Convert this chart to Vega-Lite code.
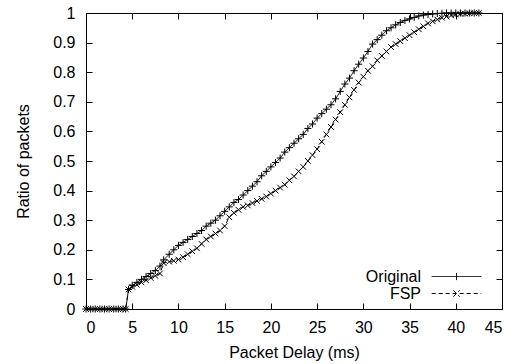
{
  "$schema": "https://vega.github.io/schema/vega-lite/v6.json",
  "autosize": {"type": "none"},
  "width": 416,
  "height": 296,
  "padding": {"left": 86, "top": 13, "right": 12, "bottom": 55},
  "background": "white",
  "config": {
    "view": {"stroke": "black", "strokeWidth": 1},
    "font": "Liberation Sans",
    "axis": {
      "grid": false,
      "domain": false,
      "tickColor": "black",
      "tickSize": -6,
      "tickWidth": 1,
      "labelColor": "black",
      "titleColor": "black",
      "labelFontSize": 16,
      "titleFontSize": 16,
      "titleFontWeight": "normal",
      "labelFont": "Liberation Sans",
      "titleFont": "Liberation Sans"
    }
  },
  "data": {
    "values": [
      {"series": "Original", "x": 0, "y": 0},
      {"series": "Original", "x": 0.5, "y": 0},
      {"series": "Original", "x": 1.0, "y": 0},
      {"series": "Original", "x": 1.5, "y": 0},
      {"series": "Original", "x": 2.0, "y": 0},
      {"series": "Original", "x": 2.5, "y": 0},
      {"series": "Original", "x": 3.0, "y": 0},
      {"series": "Original", "x": 3.5, "y": 0},
      {"series": "Original", "x": 4.0, "y": 0},
      {"series": "Original", "x": 4.3, "y": 0},
      {"series": "Original", "x": 4.6, "y": 0.066},
      {"series": "Original", "x": 5.0, "y": 0.08},
      {"series": "Original", "x": 5.5, "y": 0.09},
      {"series": "Original", "x": 6.0, "y": 0.1},
      {"series": "Original", "x": 6.5, "y": 0.11},
      {"series": "Original", "x": 7.0, "y": 0.12},
      {"series": "Original", "x": 7.5, "y": 0.13},
      {"series": "Original", "x": 8.0, "y": 0.145},
      {"series": "Original", "x": 8.4, "y": 0.166},
      {"series": "Original", "x": 9.0, "y": 0.185},
      {"series": "Original", "x": 9.5, "y": 0.2},
      {"series": "Original", "x": 10.0, "y": 0.215},
      {"series": "Original", "x": 10.5, "y": 0.225},
      {"series": "Original", "x": 11.0, "y": 0.235},
      {"series": "Original", "x": 11.5, "y": 0.245},
      {"series": "Original", "x": 12.0, "y": 0.255},
      {"series": "Original", "x": 12.5, "y": 0.265},
      {"series": "Original", "x": 13.0, "y": 0.28},
      {"series": "Original", "x": 13.5, "y": 0.29},
      {"series": "Original", "x": 14.0, "y": 0.3},
      {"series": "Original", "x": 14.5, "y": 0.315},
      {"series": "Original", "x": 15.0, "y": 0.33},
      {"series": "Original", "x": 15.5, "y": 0.345},
      {"series": "Original", "x": 16.0, "y": 0.36},
      {"series": "Original", "x": 16.5, "y": 0.37},
      {"series": "Original", "x": 17.0, "y": 0.385},
      {"series": "Original", "x": 17.5, "y": 0.4},
      {"series": "Original", "x": 18.0, "y": 0.415},
      {"series": "Original", "x": 18.5, "y": 0.43},
      {"series": "Original", "x": 19.0, "y": 0.45},
      {"series": "Original", "x": 19.5, "y": 0.465},
      {"series": "Original", "x": 20.0, "y": 0.48},
      {"series": "Original", "x": 20.5, "y": 0.495},
      {"series": "Original", "x": 21.0, "y": 0.51},
      {"series": "Original", "x": 21.5, "y": 0.53},
      {"series": "Original", "x": 22.0, "y": 0.545},
      {"series": "Original", "x": 22.5, "y": 0.56},
      {"series": "Original", "x": 23.0, "y": 0.575},
      {"series": "Original", "x": 23.5, "y": 0.59},
      {"series": "Original", "x": 24.0, "y": 0.61},
      {"series": "Original", "x": 24.5, "y": 0.625},
      {"series": "Original", "x": 25.0, "y": 0.645},
      {"series": "Original", "x": 25.5, "y": 0.66},
      {"series": "Original", "x": 26.0, "y": 0.675},
      {"series": "Original", "x": 26.5, "y": 0.69},
      {"series": "Original", "x": 27.0, "y": 0.71},
      {"series": "Original", "x": 27.5, "y": 0.735},
      {"series": "Original", "x": 28.0, "y": 0.76},
      {"series": "Original", "x": 28.5, "y": 0.78},
      {"series": "Original", "x": 29.0, "y": 0.805},
      {"series": "Original", "x": 29.5, "y": 0.827},
      {"series": "Original", "x": 30.0, "y": 0.848},
      {"series": "Original", "x": 30.5, "y": 0.87},
      {"series": "Original", "x": 31.0, "y": 0.895},
      {"series": "Original", "x": 31.5, "y": 0.91},
      {"series": "Original", "x": 32.0, "y": 0.925},
      {"series": "Original", "x": 32.5, "y": 0.94},
      {"series": "Original", "x": 33.0, "y": 0.95},
      {"series": "Original", "x": 33.5, "y": 0.96},
      {"series": "Original", "x": 34.0, "y": 0.968},
      {"series": "Original", "x": 34.5, "y": 0.975},
      {"series": "Original", "x": 35.0, "y": 0.98},
      {"series": "Original", "x": 35.5, "y": 0.985},
      {"series": "Original", "x": 36.0, "y": 0.99},
      {"series": "Original", "x": 36.5, "y": 0.993},
      {"series": "Original", "x": 37.0, "y": 0.995},
      {"series": "Original", "x": 37.5, "y": 0.997},
      {"series": "Original", "x": 38.0, "y": 0.998},
      {"series": "Original", "x": 38.5, "y": 0.999},
      {"series": "Original", "x": 39.0, "y": 1.0},
      {"series": "Original", "x": 39.5, "y": 1.0},
      {"series": "Original", "x": 40.0, "y": 1.0},
      {"series": "Original", "x": 40.5, "y": 1.0},
      {"series": "Original", "x": 41.0, "y": 1.0},
      {"series": "Original", "x": 41.5, "y": 1.0},
      {"series": "Original", "x": 42.0, "y": 1.0},
      {"series": "Original", "x": 42.5, "y": 1.0},
      {"series": "FSP", "x": 0, "y": 0},
      {"series": "FSP", "x": 0.5, "y": 0},
      {"series": "FSP", "x": 1.0, "y": 0},
      {"series": "FSP", "x": 1.5, "y": 0},
      {"series": "FSP", "x": 2.0, "y": 0},
      {"series": "FSP", "x": 2.5, "y": 0},
      {"series": "FSP", "x": 3.0, "y": 0},
      {"series": "FSP", "x": 3.5, "y": 0},
      {"series": "FSP", "x": 4.0, "y": 0},
      {"series": "FSP", "x": 4.3, "y": 0},
      {"series": "FSP", "x": 4.6, "y": 0.066},
      {"series": "FSP", "x": 5.0, "y": 0.075},
      {"series": "FSP", "x": 5.5, "y": 0.082},
      {"series": "FSP", "x": 6.0, "y": 0.09},
      {"series": "FSP", "x": 6.5, "y": 0.097},
      {"series": "FSP", "x": 7.0, "y": 0.105},
      {"series": "FSP", "x": 7.5, "y": 0.112},
      {"series": "FSP", "x": 8.0, "y": 0.12},
      {"series": "FSP", "x": 8.4, "y": 0.155},
      {"series": "FSP", "x": 9.0, "y": 0.16},
      {"series": "FSP", "x": 9.5, "y": 0.163},
      {"series": "FSP", "x": 10.0, "y": 0.167},
      {"series": "FSP", "x": 10.5, "y": 0.175},
      {"series": "FSP", "x": 11.0, "y": 0.185},
      {"series": "FSP", "x": 11.5, "y": 0.195},
      {"series": "FSP", "x": 12.0, "y": 0.205},
      {"series": "FSP", "x": 12.5, "y": 0.22},
      {"series": "FSP", "x": 13.0, "y": 0.235},
      {"series": "FSP", "x": 13.5, "y": 0.245},
      {"series": "FSP", "x": 14.0, "y": 0.255},
      {"series": "FSP", "x": 14.5, "y": 0.265},
      {"series": "FSP", "x": 15.0, "y": 0.28},
      {"series": "FSP", "x": 15.5, "y": 0.31},
      {"series": "FSP", "x": 16.0, "y": 0.325},
      {"series": "FSP", "x": 16.5, "y": 0.335},
      {"series": "FSP", "x": 17.0, "y": 0.345},
      {"series": "FSP", "x": 17.5, "y": 0.35},
      {"series": "FSP", "x": 18.0, "y": 0.358},
      {"series": "FSP", "x": 18.5, "y": 0.365},
      {"series": "FSP", "x": 19.0, "y": 0.372},
      {"series": "FSP", "x": 19.5, "y": 0.38},
      {"series": "FSP", "x": 20.0, "y": 0.39},
      {"series": "FSP", "x": 20.5, "y": 0.4},
      {"series": "FSP", "x": 21.0, "y": 0.41},
      {"series": "FSP", "x": 21.5, "y": 0.42},
      {"series": "FSP", "x": 22.0, "y": 0.435},
      {"series": "FSP", "x": 22.5, "y": 0.448},
      {"series": "FSP", "x": 23.0, "y": 0.465},
      {"series": "FSP", "x": 23.5, "y": 0.48},
      {"series": "FSP", "x": 24.0, "y": 0.5},
      {"series": "FSP", "x": 24.5, "y": 0.52},
      {"series": "FSP", "x": 25.0, "y": 0.54},
      {"series": "FSP", "x": 25.5, "y": 0.565},
      {"series": "FSP", "x": 26.0, "y": 0.59},
      {"series": "FSP", "x": 26.5, "y": 0.615},
      {"series": "FSP", "x": 27.0, "y": 0.64},
      {"series": "FSP", "x": 27.5, "y": 0.665},
      {"series": "FSP", "x": 28.0, "y": 0.69},
      {"series": "FSP", "x": 28.5, "y": 0.715},
      {"series": "FSP", "x": 29.0, "y": 0.74},
      {"series": "FSP", "x": 29.5, "y": 0.765},
      {"series": "FSP", "x": 30.0, "y": 0.785},
      {"series": "FSP", "x": 30.5, "y": 0.805},
      {"series": "FSP", "x": 31.0, "y": 0.82},
      {"series": "FSP", "x": 31.5, "y": 0.84},
      {"series": "FSP", "x": 32.0, "y": 0.855},
      {"series": "FSP", "x": 32.5, "y": 0.87},
      {"series": "FSP", "x": 33.0, "y": 0.885},
      {"series": "FSP", "x": 33.5, "y": 0.895},
      {"series": "FSP", "x": 34.0, "y": 0.905},
      {"series": "FSP", "x": 34.5, "y": 0.915},
      {"series": "FSP", "x": 35.0, "y": 0.925},
      {"series": "FSP", "x": 35.5, "y": 0.935},
      {"series": "FSP", "x": 36.0, "y": 0.945},
      {"series": "FSP", "x": 36.5, "y": 0.955},
      {"series": "FSP", "x": 37.0, "y": 0.965},
      {"series": "FSP", "x": 37.5, "y": 0.972},
      {"series": "FSP", "x": 38.0, "y": 0.978},
      {"series": "FSP", "x": 38.5, "y": 0.984},
      {"series": "FSP", "x": 39.0, "y": 0.988},
      {"series": "FSP", "x": 39.5, "y": 0.992},
      {"series": "FSP", "x": 40.0, "y": 0.995},
      {"series": "FSP", "x": 40.5, "y": 0.997},
      {"series": "FSP", "x": 41.0, "y": 0.998},
      {"series": "FSP", "x": 41.5, "y": 0.999},
      {"series": "FSP", "x": 42.0, "y": 1.0},
      {"series": "FSP", "x": 42.5, "y": 1.0}
    ]
  },
  "layer": [
    {
      "mark": {"type": "line", "color": "black", "strokeWidth": 1},
      "encoding": {
        "x": {
          "field": "x", "type": "quantitative",
          "scale": {"domain": [0, 45], "nice": false, "zero": false},
          "axis": {
            "orient": "bottom",
            "values": [0, 5, 10, 15, 20, 25, 30, 35, 40, 45],
            "title": "Packet Delay (ms)",
            "labelPadding": 16,
            "titleY": 48,
            "titleBaseline": "alphabetic"
          }
        },
        "y": {
          "field": "y", "type": "quantitative",
          "scale": {"domain": [0, 1], "nice": false},
          "axis": {
            "orient": "left",
            "values": [0, 0.1, 0.2, 0.3, 0.4, 0.5, 0.6, 0.7, 0.8, 0.9, 1],
            "format": "~g",
            "title": "Ratio of packets",
            "labelPadding": 17,
            "titleX": -63,
            "titleBaseline": "middle"
          }
        },
        "strokeDash": {
          "field": "series", "type": "nominal",
          "scale": {"domain": ["Original", "FSP"], "range": [[1, 0], [4, 3]]},
          "legend": {
            "orient": "none",
            "legendX": 362,
            "legendY": 255,
            "title": null,
            "padding": 0,
            "symbolType": "M-3.1,0L3.1,0",
            "symbolSize": 256,
            "symbolStrokeColor": "black",
            "symbolStrokeWidth": 1,
            "labelAlign": "right",
            "labelOffset": -44,
            "labelFontSize": 16,
            "labelColor": "black",
            "labelFont": "Liberation Sans",
            "rowPadding": 0,
            "encode": {
              "symbols": {
                "update": {
                  "shape": {"signal": "datum.value === 'Original' ? 'M-3.1,0L3.1,0M0,-0.45L0,0.45' : 'M-3.1,0L3.1,0M-0.4,-0.4L0.4,0.4M-0.4,0.4L0.4,-0.4'"}
                }
              }
            }
          }
        }
      }
    },
    {
      "mark": {"type": "point", "filled": false, "color": "black", "strokeWidth": 1, "size": 50, "opacity": 1},
      "encoding": {
        "x": {
          "field": "x", "type": "quantitative",
          "scale": {"domain": [0, 45], "nice": false, "zero": false},
          "axis": {"orient": "top", "values": [0, 5, 10, 15, 20, 25, 30, 35, 40, 45], "labels": false, "title": null}
        },
        "y": {
          "field": "y", "type": "quantitative",
          "scale": {"domain": [0, 1], "nice": false},
          "axis": {"orient": "right", "values": [0, 0.1, 0.2, 0.3, 0.4, 0.5, 0.6, 0.7, 0.8, 0.9, 1], "labels": false, "title": null}
        },
        "shape": {
          "field": "series", "type": "nominal",
          "scale": {"domain": ["Original", "FSP"], "range": ["M-1,0L1,0M0,-1L0,1", "M-0.8,-0.8L0.8,0.8M-0.8,0.8L0.8,-0.8"]},
          "legend": null
        }
      }
    }
  ],
  "resolve": {"axis": {"x": "independent", "y": "independent"}, "legend": {"shape": "independent", "strokeDash": "independent"}}
}
